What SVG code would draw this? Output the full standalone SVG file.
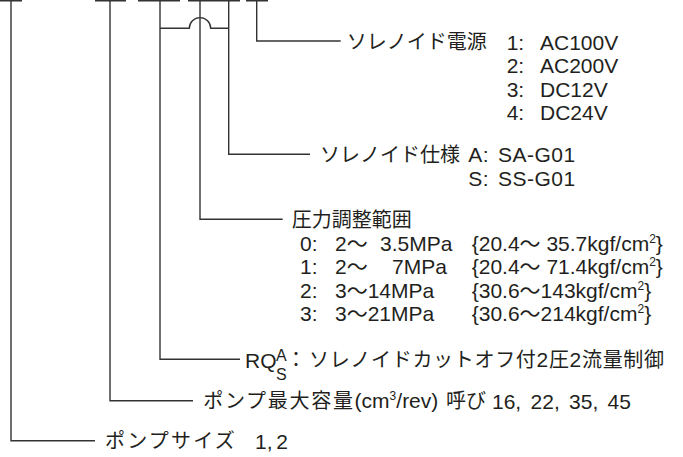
<svg xmlns="http://www.w3.org/2000/svg" width="683" height="457" viewBox="0 0 683 457">
<style>
.l{font-family:"Liberation Sans","Noto Sans CJK JP",sans-serif;font-size:21px;fill:#231f20}
.j{font-family:"Noto Sans CJK JP",sans-serif;font-size:20px;fill:#231f20}
.s{font-family:"Liberation Sans",sans-serif;font-size:16px;fill:#231f20}
.sup{font-size:12px}
.ln{fill:none;stroke:#333;stroke-width:1.4}
</style>
<rect width="683" height="457" fill="#fff"/>
<g id="connectors" class="ln">
<path d="M0 0.7H22M95 0.7H126M138 0.7H180M188 0.7H240M246 0.7H268"/>
<path d="M11 0V440.7H95"/>
<path d="M110 0V400.7H193"/>
<path d="M160 0V359.3H240"/>
<path d="M200 0V219.3H282.7"/>
<path d="M228.7 0V154.3H310"/>
<path d="M256.7 0V41H340.7"/>
<path d="M160 28.3H189.3A10.7 10.7 0 0 1 210.7 28.3H228.7"/>
</g>
<g id="solenoid-power">
<text class="j" x="346.7" y="48.5">ソレノイド電源</text>
<text class="l" y="49.5"><tspan x="506.7">1:</tspan><tspan x="540">AC100V</tspan></text>
<text class="l" y="73"><tspan x="506.7">2:</tspan><tspan x="540">AC200V</tspan></text>
<text class="l" y="96.5"><tspan x="506.7">3:</tspan><tspan x="540">DC12V</tspan></text>
<text class="l" y="120"><tspan x="506.7">4:</tspan><tspan x="540">DC24V</tspan></text>
</g>
<g id="solenoid-spec">
<text class="j" x="320" y="161.5">ソレノイド仕様</text>
<text class="l" y="162" letter-spacing="0.5"><tspan x="468.3">A:</tspan><tspan x="498">SA-G01</tspan></text>
<text class="l" y="185.5" letter-spacing="0.5"><tspan x="468.3">S:</tspan><tspan x="498">SS-G01</tspan></text>
</g>
<g id="pressure-range">
<text class="j" x="291.7" y="226.5">圧力調整範囲</text>
<text class="l" y="250.5"><tspan x="300">0:</tspan><tspan x="335">2～</tspan><tspan x="380">3.5MPa</tspan><tspan x="471.7">{20.4～ 35.7kgf/cm</tspan><tspan class="sup" dy="-8">2</tspan><tspan dy="8">}</tspan></text>
<text class="l" y="274"><tspan x="300">1:</tspan><tspan x="335">2～</tspan><tspan x="392">7MPa</tspan><tspan x="471.7">{20.4～ 71.4kgf/cm</tspan><tspan class="sup" dy="-8">2</tspan><tspan dy="8">}</tspan></text>
<text class="l" y="297.5"><tspan x="300">2:</tspan><tspan x="335">3～14MPa</tspan><tspan x="471.7">{30.6～143kgf/cm</tspan><tspan class="sup" dy="-8">2</tspan><tspan dy="8">}</tspan></text>
<text class="l" y="321"><tspan x="300">3:</tspan><tspan x="335">3～21MPa</tspan><tspan x="471.7">{30.6～214kgf/cm</tspan><tspan class="sup" dy="-8">2</tspan><tspan dy="8">}</tspan></text>
</g>
<g id="control">
<text class="l" x="245" y="367.5">RQ</text>
<text class="s" x="276" y="361">A</text>
<text class="s" x="276" y="380">S</text>
<text class="j" x="286" y="367">：</text>
<text class="j" x="309" y="367" textLength="355">ソレノイドカットオフ付<tspan class="l">2</tspan>圧<tspan class="l">2</tspan>流量制御</text>
</g>
<g id="pump-capacity">
<text class="j" x="203.3" y="408"><tspan letter-spacing="1.7">ポンプ最大容量</tspan><tspan class="l">(cm<tspan class="sup" dy="-8">3</tspan><tspan dy="8">/rev)</tspan></tspan></text>
<text class="j" x="446" y="408">呼び</text>
<text class="l" x="492" y="408.5" word-spacing="3.5">16, 22, 35, 45</text>
</g>
<g id="pump-size">
<text class="j" x="105" y="448" letter-spacing="2.2">ポンプサイズ</text>
<text class="l" x="255" y="448.5" word-spacing="-2">1, 2</text>
</g>
</svg>
